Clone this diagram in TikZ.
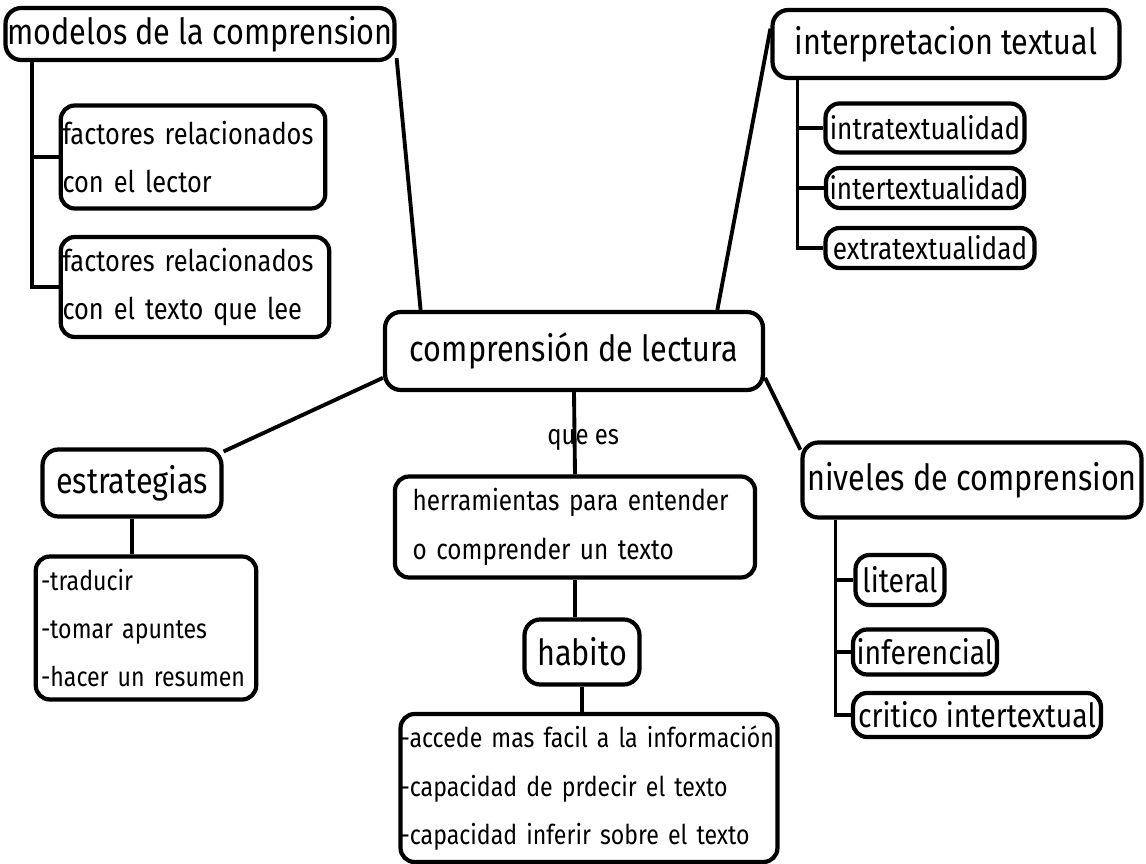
\documentclass[tikz,border=0pt]{standalone}
\usepackage{fontspec}
\setmainfont[FakeStretch=0.85]{Fira Sans}
\usepackage{tikz}
\usetikzlibrary{positioning, calc}
\newcommand{\maptitle}{\fontsize{20.5}{24}\selectfont}
\newcommand{\mapitem}{\fontsize{16}{27.5}\selectfont}
\newcommand{\maplist}{\fontsize{15.5}{27.5}\selectfont}
\tikzstyle{titlebox} = [rectangle, draw, line width=2.4pt, rounded corners=9pt, inner sep=1pt, font=\maptitle]
\tikzstyle{itembox} = [rectangle, draw, line width=2.4pt, rounded corners=8pt, inner sep=1pt, font=\mapitem]
\tikzstyle{listbox} = [itembox, align=left, inner xsep=3pt, font=\maplist]
\tikzstyle{link} = [line width=2.2pt, black]

\begin{document}
\begin{tikzpicture}[x=0.02cm, y=-0.02cm]
                \useasboundingbox (0,0) rectangle (1146,864);
                % central idea
                \node[titlebox, minimum width=7.56cm, minimum height=1.56cm] (central) at (574,351) {comprensión de lectura};
                
                % modelos branch
                \node[titlebox, minimum width=7.7cm, minimum height=1.04cm] (modelos) at (200,34) {modelos de la comprension};
                \node[listbox, text width=5.22cm, minimum height=2.06cm, inner xsep=1pt, font=\fontsize{17}{27}\selectfont] (lector) at (193,157) {factores relacionados\\con el lector};
                \node[listbox, text width=5.3cm, minimum height=2.0cm, inner xsep=1pt, font=\fontsize{17}{27}\selectfont] (textolee) at (195,287) {factores relacionados\\con el texto que lee};
                
                % interpretacion branch
                \node[titlebox, minimum width=6.94cm, minimum height=1.36cm] (interp) at (946,44) {interpretacion textual};
                \node[itembox, minimum width=3.98cm, minimum height=0.98cm, font=\fontsize{17.5}{21}\selectfont] (intra) at (925,128) {intratextualidad};
                \node[itembox, minimum width=3.96cm, minimum height=0.8cm, font=\fontsize{17.5}{21}\selectfont] (inter) at (925,188) {intertextualidad};
                \node[itembox, minimum width=4.18cm, minimum height=0.8cm, font=\fontsize{17.5}{21}\selectfont] (extra) at (930,248) {extratextualidad};
                
                % estrategias branch
                \node[titlebox, minimum width=3.58cm, minimum height=1.34cm] (estrategias) at (132,483) {estrategias};
                \node[listbox, text width=4.2cm, minimum height=2.86cm] (estlist) at (146,628) {-traducir\\-tomar apuntes\\-hacer un resumen};
                
                % definicion y habito
                \node[listbox, text width=6.5cm, minimum height=2.02cm, inner xsep=10pt, font=\fontsize{16.3}{27.5}\selectfont] (herram) at (575,527) {herramientas para entender\\o comprender un texto};
                \node[titlebox, minimum width=2.3cm, minimum height=1.3cm] (habito) at (582,652) {habito};
                \node[listbox, text width=7.54cm, minimum height=2.96cm, inner xsep=0pt] (habitolist) at (589,788) {-accede mas facil a la información\\-capacidad de prdecir el texto\\-capacidad inferir sobre el texto};
                
                % niveles branch
                \node[titlebox, minimum width=6.78cm, minimum height=1.5cm] (niveles) at (972,480) {niveles de comprension};
                \node[itembox, minimum width=1.78cm, minimum height=1.0cm, font=\fontsize{19}{22}\selectfont] (literal) at (900,580) {literal};
                \node[itembox, minimum width=2.88cm, minimum height=0.9cm, font=\fontsize{19}{22}\selectfont] (inferencial) at (925,652) {inferencial};
                \node[itembox, minimum width=4.96cm, minimum height=0.88cm, font=\fontsize{19}{22}\selectfont] (critico) at (977,715) {critico intertextual};
                
                % connections from the center
                \draw[link] (central.165) -- (modelos.-7);
                \draw[link] (central.16) -- (interp.175);
                \draw[link] (central.188) -- (estrategias.19);
                \draw[link] (central.-8) -- (niveles.170);
                \draw[link] (central.south) -- node[font=\mapitem, xshift=5pt, yshift=-4pt] {que es} (herram.north);
                
                % sub connections
                \draw[link] ($(modelos.south west)+(29,0)$) |- (lector.west);
                \draw[link] ($(modelos.south west)+(29,0)$) |- (textolee.west);
                \draw[link] ($(interp.south west)+(27,0)$) |- (intra.west);
                \draw[link] ($(interp.south west)+(27,0)$) |- (inter.west);
                \draw[link] ($(interp.south west)+(27,0)$) |- (extra.west);
                \draw[link] ($(niveles.south west)+(35,0)$) |- (literal.west);
                \draw[link] ($(niveles.south west)+(35,0)$) |- (inferencial.west);
                \draw[link] ($(niveles.south west)+(35,0)$) |- (critico.west);
                \draw[link] (estrategias.south) -- (estrategias.south |- estlist.north);
                \draw[link] (herram.south) -- (herram.south |- habito.north);
                \draw[link] (habito.south) -- (habito.south |- habitolist.north);
            \end{tikzpicture}
\end{document}
